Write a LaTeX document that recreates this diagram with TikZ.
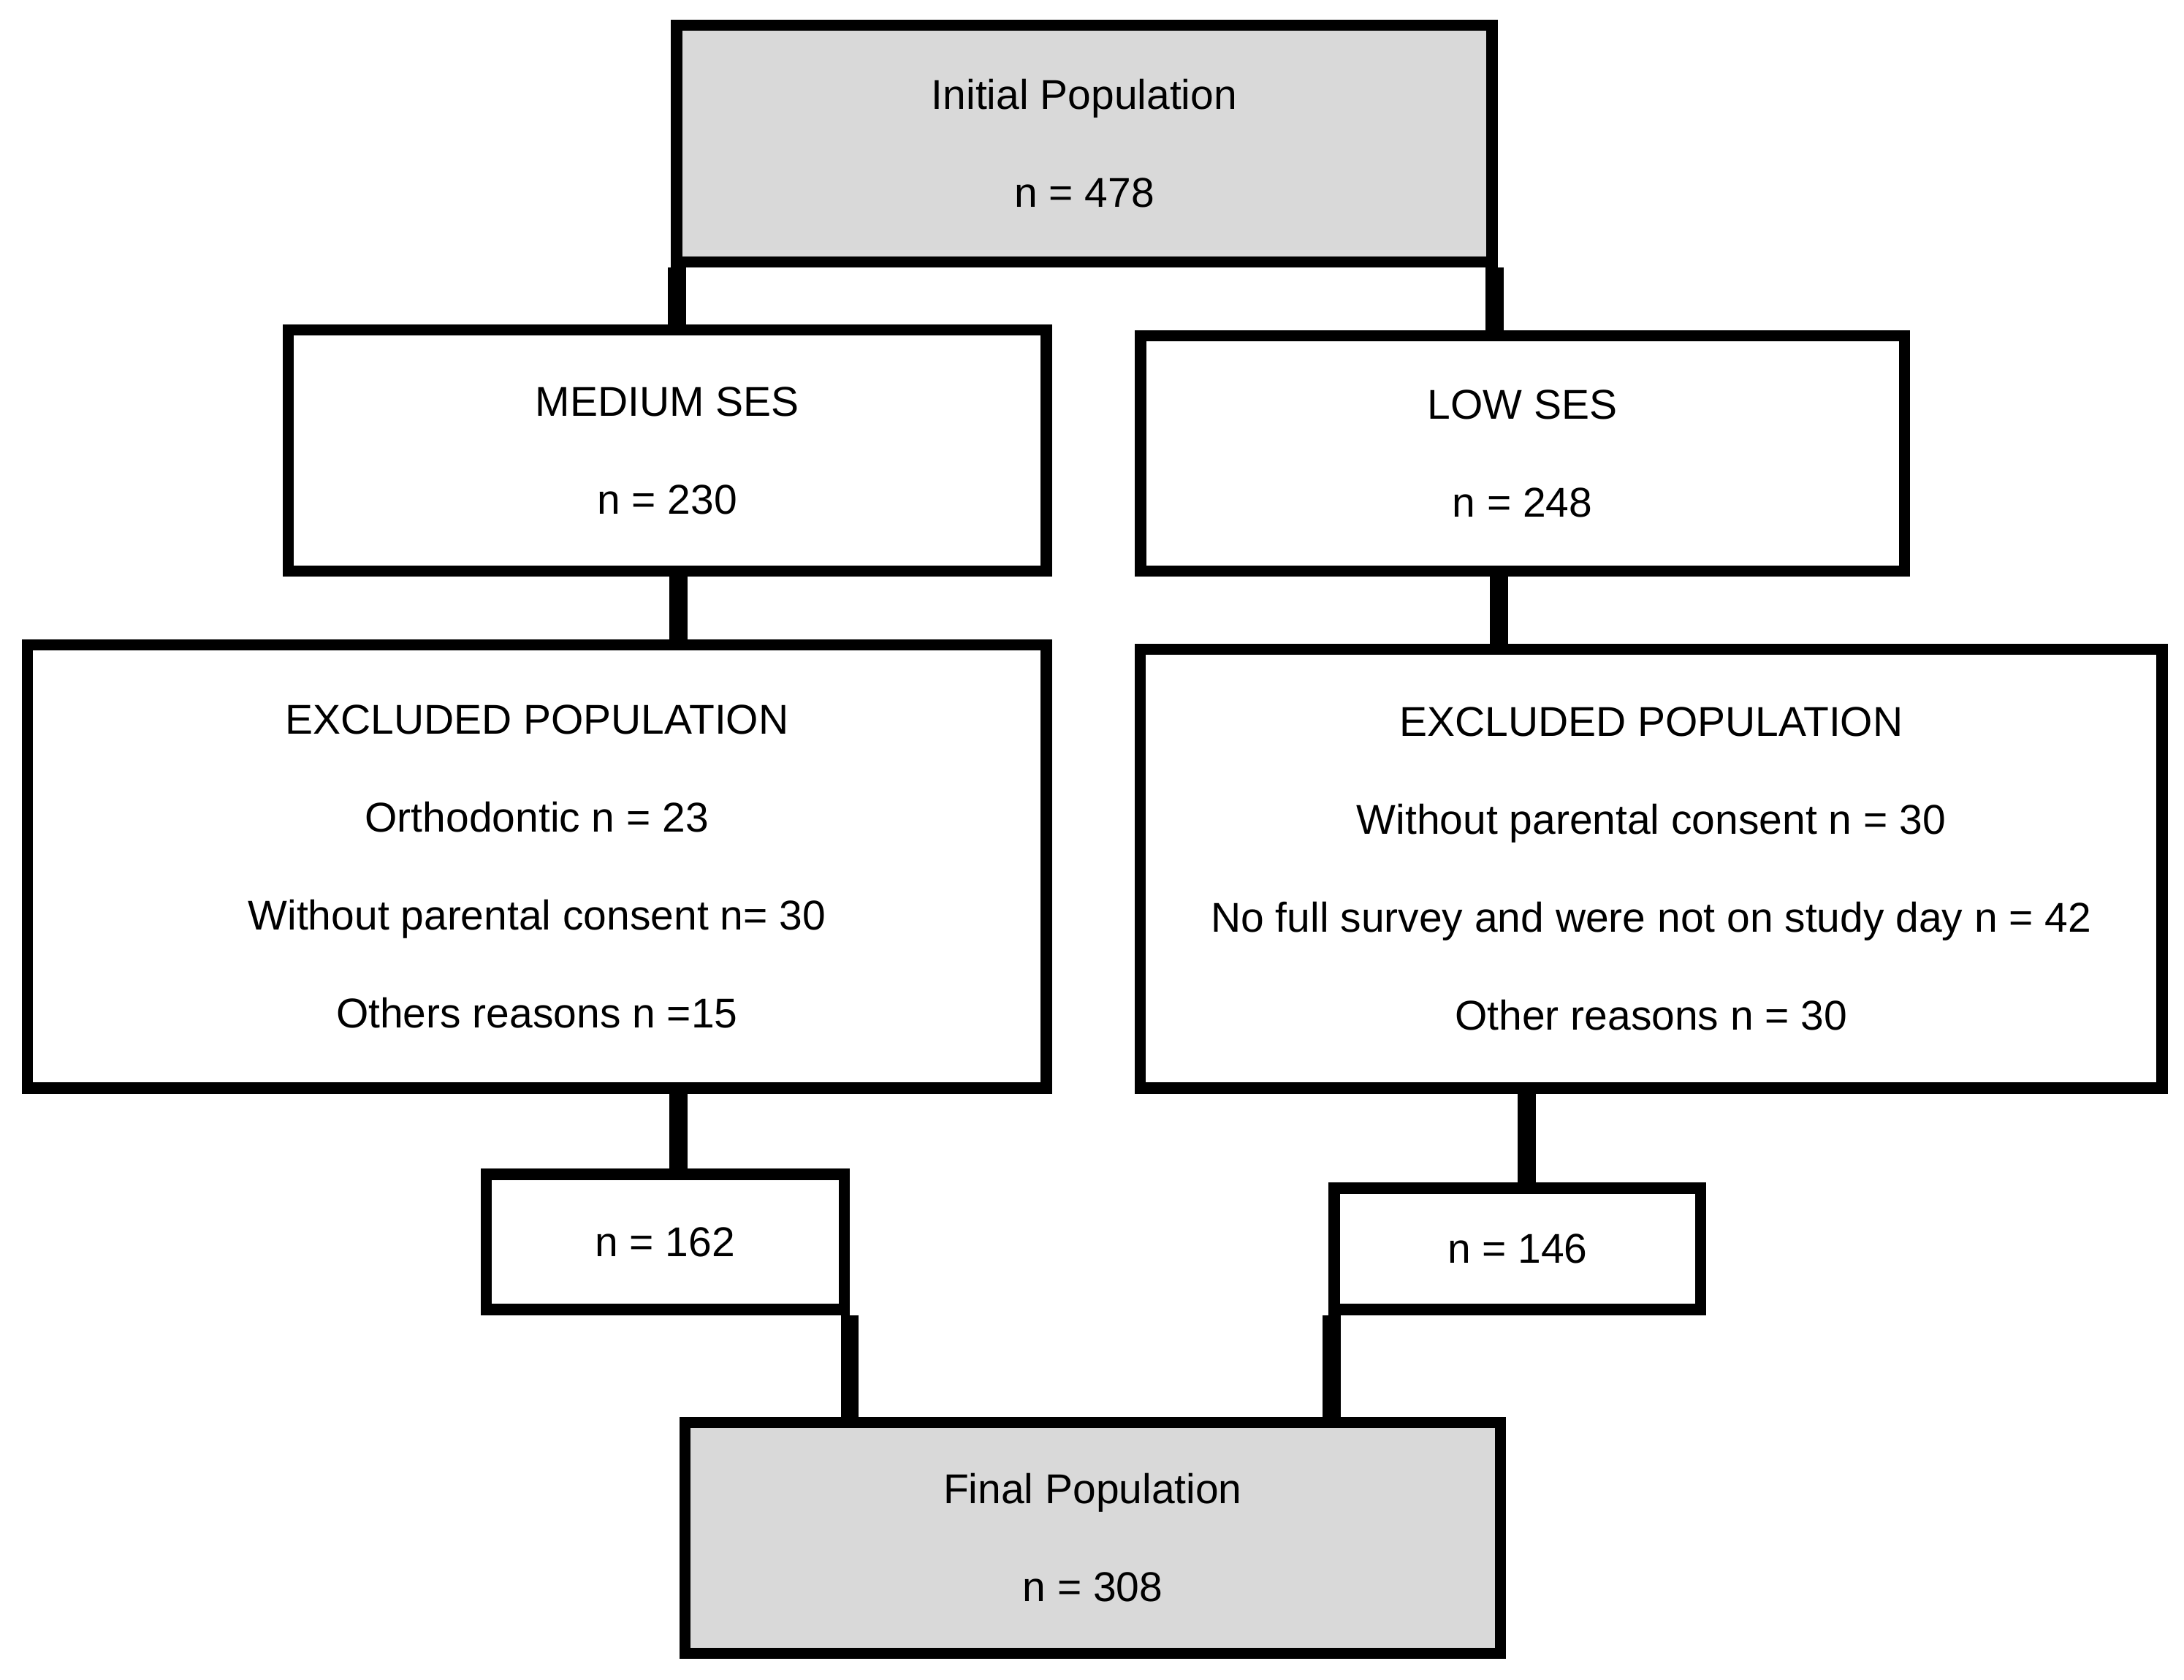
\documentclass[tikz,border=0pt]{standalone}
\usepackage{fontspec}
\setmainfont{Liberation Sans}
\colorlet{boxgray}{black!15}
\tikzset{
  stage/.style={draw, line width=0.08cm, align=center, inner sep=0pt,
    font=\fontsize{8.5}{20}\selectfont},
  link/.style={line width=0.13cm},
}
\begin{document}
\begin{tikzpicture}[x=0.01cm, y=-0.01cm]
\useasboundingbox (0,0) rectangle (1568,1206);
\node[stage, fill=boxgray, minimum width=5.85cm, minimum height=1.70cm] (init) at (778.5,103) {Initial Population\\n = 478};
\node[stage, minimum width=5.44cm, minimum height=1.73cm] (medium) at (479,323.5) {MEDIUM SES\\n = 230};
\node[stage, minimum width=5.48cm, minimum height=1.69cm] (low) at (1093,325.5) {LOW SES\\n = 248};
\node[stage, minimum width=7.31cm, minimum height=3.18cm] (exclMed) at (385.5,622) {EXCLUDED POPULATION\\Orthodontic n = 23\\Without parental consent n= 30\\Others reasons n =15};
\node[stage, minimum width=7.33cm, minimum height=3.15cm] (exclLow) at (1185.5,623.5) {EXCLUDED POPULATION\\Without parental consent n = 30\\No full survey and were not on study day n = 42\\Other reasons n = 30};
\node[stage, minimum width=2.57cm, minimum height=0.97cm] (remMed) at (477.5,891.5) {n = 162};
\node[stage, minimum width=2.63cm, minimum height=0.87cm] (remLow) at (1089.5,896.5) {n = 146};
\node[stage, fill=boxgray, minimum width=5.85cm, minimum height=1.66cm] (final) at (784.5,1104) {Final Population\\n = 308};
% links
\draw[link] ([xshift=0.04cm]init.south west) -- ([xshift=0.04cm]init.south west |- medium.north);
\draw[link] ([xshift=-0.02cm]init.south east) -- ([xshift=-0.02cm]init.south east |- low.north);
\draw[link] ([xshift=0.08cm]medium.south) -- ([xshift=0.08cm]medium.south |- exclMed.north);
\draw[link] ([xshift=-0.17cm]low.south) -- ([xshift=-0.17cm]low.south |- exclLow.north);
\draw[link] ([xshift=1.015cm]exclMed.south) -- ([xshift=1.015cm]exclMed.south |- remMed.north);
\draw[link] ([xshift=-0.895cm]exclLow.south) -- ([xshift=-0.895cm]exclLow.south |- remLow.north);
\draw[link] (remMed.south east) -- (remMed.south east |- final.north);
\draw[link] ([xshift=0.02cm]remLow.south west) -- ([xshift=0.02cm]remLow.south west |- final.north);
\end{tikzpicture}
\end{document}
